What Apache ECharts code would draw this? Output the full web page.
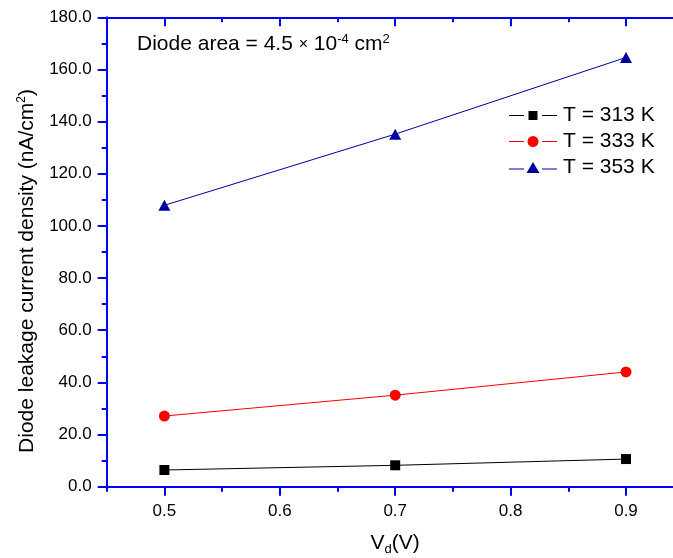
<!DOCTYPE html>
<html>
<head>
<meta charset="utf-8">
<script src="https://cdn.jsdelivr.net/npm/echarts@6/dist/echarts.min.js"></script>
<style>
  html, body { margin: 0; padding: 0; background: #ffffff; }
  #chart { width: 673px; height: 558px; }
</style>
</head>
<body>
<div id="chart"></div>
<script>
// Diode bias voltage (V)
const voltages = [0.5, 0.7, 0.9];
// Leakage current density (nA/cm^2) at each temperature
const j313 = [6.4, 8.2, 10.6];
const j333 = [27.1, 35.1, 44.0];
const j353 = [107.9, 135.2, 164.6];
const seriesNames = ['T = 313 K', 'T = 333 K', 'T = 353 K'];
// Bottom/top axis tick positions
const xMajorTicks = [0.5, 0.6, 0.7, 0.8, 0.9];
const xMinorTicks = [0.45, 0.55, 0.65, 0.75, 0.85];

const AXIS_BLUE = '#0000ff';
const FONT = 'Liberation Sans, Arial, sans-serif';

// Legend keys: short line, gap, marker, gap, short line (11 px tall box)
const legLines = (y) => `M0,${y} L15,${y} L15,${y + 1} L0,${y + 1} Z M33,${y} L48,${y} L48,${y + 1} L33,${y + 1} Z `;
const legendIcons = [
  'path://' + legLines(5) + 'M19.5,1 L28.5,1 L28.5,10 L19.5,10 Z',
  'path://' + legLines(5) + 'M18.5,5.5 A5.5,5.5 0 1,0 29.5,5.5 A5.5,5.5 0 1,0 18.5,5.5 Z',
  'path://' + legLines(6.5) + 'M17.5,11 L24,0 L30.5,11 Z'
];

const chart = echarts.init(document.getElementById('chart'), null, { renderer: 'canvas' });

const pairs = (ys) => voltages.map((v, i) => [v, ys[i]]);

// One x axis per tick set (major with labels, minor without), on bottom and top
function xAxisLayer(position, ticks, len, withLine, withLabels, inside) {
  return {
    type: 'value', position: position, min: 0.45, max: 0.95, offset: 0,
    axisLine: { show: withLine, onZero: false, lineStyle: { color: AXIS_BLUE, width: 2 } },
    axisTick: { show: true, inside: inside, length: len, customValues: ticks,
                lineStyle: { color: AXIS_BLUE, width: 2 } },
    splitLine: { show: false },
    axisLabel: withLabels
      ? { show: true, customValues: ticks, margin: 16, fontSize: 17, color: '#000', fontFamily: FONT,
          formatter: (v) => v.toFixed(1) }
      : { show: false }
  };
}

const bottomMajor = xAxisLayer('bottom', xMajorTicks, 9, true, true, false);
bottomMajor.name = '{v|V}{s|d}{v|(V)}';
bottomMajor.nameLocation = 'middle';
bottomMajor.nameGap = 45;
bottomMajor.nameTextStyle = {
  rich: {
    v: { fontSize: 21, fontFamily: FONT, color: '#000' },
    s: { fontSize: 13, fontFamily: FONT, color: '#000', verticalAlign: 'bottom', padding: [11, 0, 0, 0] }
  }
};

const option = {
  animation: false,
  backgroundColor: '#ffffff',
  grid: { left: 106.7, top: 17.3, right: -10.7, bottom: 71.3, containLabel: false, outerBoundsMode: 'none' },
  xAxis: [
    bottomMajor,
    xAxisLayer('bottom', xMinorTicks, 5, false, false, false),
    xAxisLayer('top', xMajorTicks, 9, true, false, true),
    xAxisLayer('top', xMinorTicks, 5, false, false, true)
  ],
  yAxis: {
    type: 'value', min: 0, max: 180, interval: 20,
    axisLine: { onZero: false, lineStyle: { color: AXIS_BLUE, width: 2 } },
    axisTick: { inside: false, length: 9, lineStyle: { color: AXIS_BLUE, width: 2 } },
    minorTick: { show: true, splitNumber: 2, length: 5, lineStyle: { color: AXIS_BLUE, width: 2 } },
    splitLine: { show: false },
    axisLabel: { margin: 15, fontSize: 17, color: '#000', fontFamily: FONT, formatter: (v) => v.toFixed(1) }
  },
  legend: {
    left: 509, top: 105, orient: 'vertical', padding: 0,
    itemWidth: 48, itemHeight: 11, itemGap: 5,
    symbolKeepAspect: true,
    textStyle: { fontSize: 21, fontFamily: FONT, color: '#000', lineHeight: 21, padding: [0, 0, 0, 1] },
    data: seriesNames.map((n, i) => ({ name: n, icon: legendIcons[i] }))
  },
  series: [
    {
      name: seriesNames[0], type: 'line', xAxisIndex: 0, data: pairs(j313),
      symbol: 'rect', symbolSize: 10,
      lineStyle: { color: '#000000', width: 1 }, itemStyle: { color: '#000000' }
    },
    {
      name: seriesNames[1], type: 'line', xAxisIndex: 0, data: pairs(j333),
      symbol: 'circle', symbolSize: 11,
      lineStyle: { color: '#ff0000', width: 1 }, itemStyle: { color: '#ff0000' }
    },
    {
      name: seriesNames[2], type: 'line', xAxisIndex: 0, data: pairs(j353),
      symbol: 'triangle', symbolSize: [12, 11],
      lineStyle: { color: '#00009c', width: 1 }, itemStyle: { color: '#00009c' }
    }
  ],
  graphic: [
    {
      type: 'text', left: 137, top: 33,
      style: {
        text: '{t|Diode area = 4.5 }{x|×}{t| 10}{p|-4}{t| cm}{p|2}',
        rich: {
          t: { fontSize: 21, fontFamily: FONT, fill: '#000' },
          x: { fontSize: 16, fontFamily: FONT, fill: '#000' },
          p: { fontSize: 13, fontFamily: FONT, fill: '#000', verticalAlign: 'top', padding: [0, 0, 10, 0] }
        }
      }
    },
    {
      type: 'text', x: 27, y: 271, rotation: Math.PI / 2,
      style: {
        text: '{t|Diode leakage current density (nA/cm}{p|2}{t|)}',
        align: 'center', verticalAlign: 'middle',
        rich: {
          t: { fontSize: 21, fontFamily: FONT, fill: '#000' },
          p: { fontSize: 12, fontFamily: FONT, fill: '#000', verticalAlign: 'top', padding: [0, 0, 10, 0] }
        }
      }
    }
  ]
};

chart.setOption(option);
</script>
</body>
</html>
